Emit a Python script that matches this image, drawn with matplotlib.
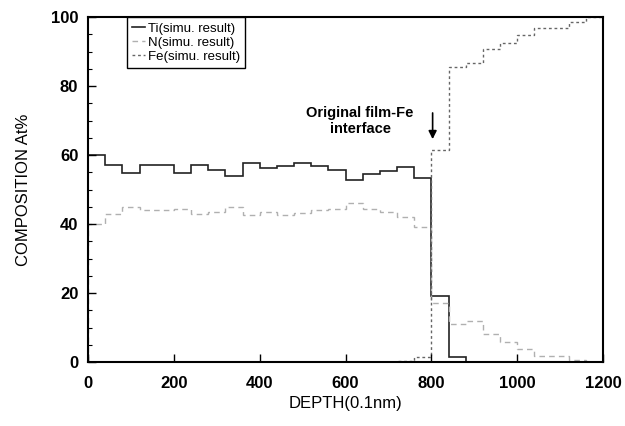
import numpy as np
import matplotlib.pyplot as plt
from matplotlib.ticker import MultipleLocator

plt.rcParams['font.family'] = ['Liberation Sans', 'DejaVu Sans']

# depth bin edges (0.1nm), 40 wide
edges = np.arange(0, 1201, 40)

ti = [60.1, 57.1, 54.9, 57.0, 57.0, 54.9, 57.0, 55.8, 53.9, 57.8,
      56.1, 56.7, 57.6, 56.8, 55.7, 52.7, 54.4, 55.4, 56.4, 53.2,
      19.1, 1.5, 0, 0, 0, 0, 0, 0, 0, 0]
n = [40.0, 43.0, 45.0, 44.0, 44.0, 44.5, 43.0, 43.6, 45.0, 42.5,
     43.6, 42.6, 43.1, 44.0, 44.3, 46.0, 44.5, 43.6, 42.1, 39.2,
     17.0, 11.0, 12.0, 8.0, 5.7, 3.7, 1.7, 1.7, 0.5, 0]
fe = [0, 0, 0, 0, 0, 0, 0, 0, 0, 0,
      0, 0, 0, 0, 0, 0, 0, 0, 0.3, 1.5,
      61.4, 85.6, 86.6, 90.6, 92.6, 94.8, 96.7, 96.7, 98.5, 100.0]

fig = plt.figure(figsize=(6.25, 4.26), dpi=100)
ax = fig.add_axes([0.1408, 0.1502, 0.824, 0.8098])

ax.stairs(ti, edges, color='#222222', lw=1.2, label='Ti(simu. result)')
ax.stairs(n, edges, color='#b0b0b0', lw=1.0, linestyle=(0, (4, 3)), label='N(simu. result)')
ax.stairs(fe, edges, color='#666666', lw=1.0, linestyle=(0, (2, 2)), label='Fe(simu. result)')

ax.set_xlim(0, 1200)
ax.set_ylim(0, 100)
ax.xaxis.set_major_locator(MultipleLocator(200))
ax.yaxis.set_major_locator(MultipleLocator(20))
ax.yaxis.set_minor_locator(MultipleLocator(5))
ax.tick_params(which='both', direction='in', top=False, right=False, labelsize=12)
ax.tick_params(which='major', length=6, width=1)
ax.tick_params(which='minor', length=3, width=0.8)
for lab in ax.get_xticklabels() + ax.get_yticklabels():
    lab.set_fontweight('bold')
ax.tick_params(axis='x', pad=10)
ax.tick_params(axis='y', pad=7)
for s in ax.spines.values():
    s.set_linewidth(1.5)

ax.set_xlabel('DEPTH(0.1nm)', fontsize=12, labelpad=4)
ax.set_ylabel('COMPOSITION At%', fontsize=12, labelpad=14)

ax.text(634, 69.8, 'Original film-Fe\ninterface', ha='center', va='center',
        fontsize=10.5, fontweight='bold', linespacing=1.15)
ax.annotate('', xy=(803, 63.8), xytext=(803, 73),
            arrowprops=dict(arrowstyle='-|>', color='black', lw=1.2, mutation_scale=12))

leg = ax.legend(loc='upper left', bbox_to_anchor=(0.075, 1.0), borderaxespad=0,
                fontsize=9.5, handlelength=1.0, handletextpad=0.2, labelspacing=0.15,
                fancybox=False, edgecolor='black', framealpha=1, borderpad=0.4)
leg.get_frame().set_linewidth(1.0)

fig.savefig('out.png', dpi=100)
